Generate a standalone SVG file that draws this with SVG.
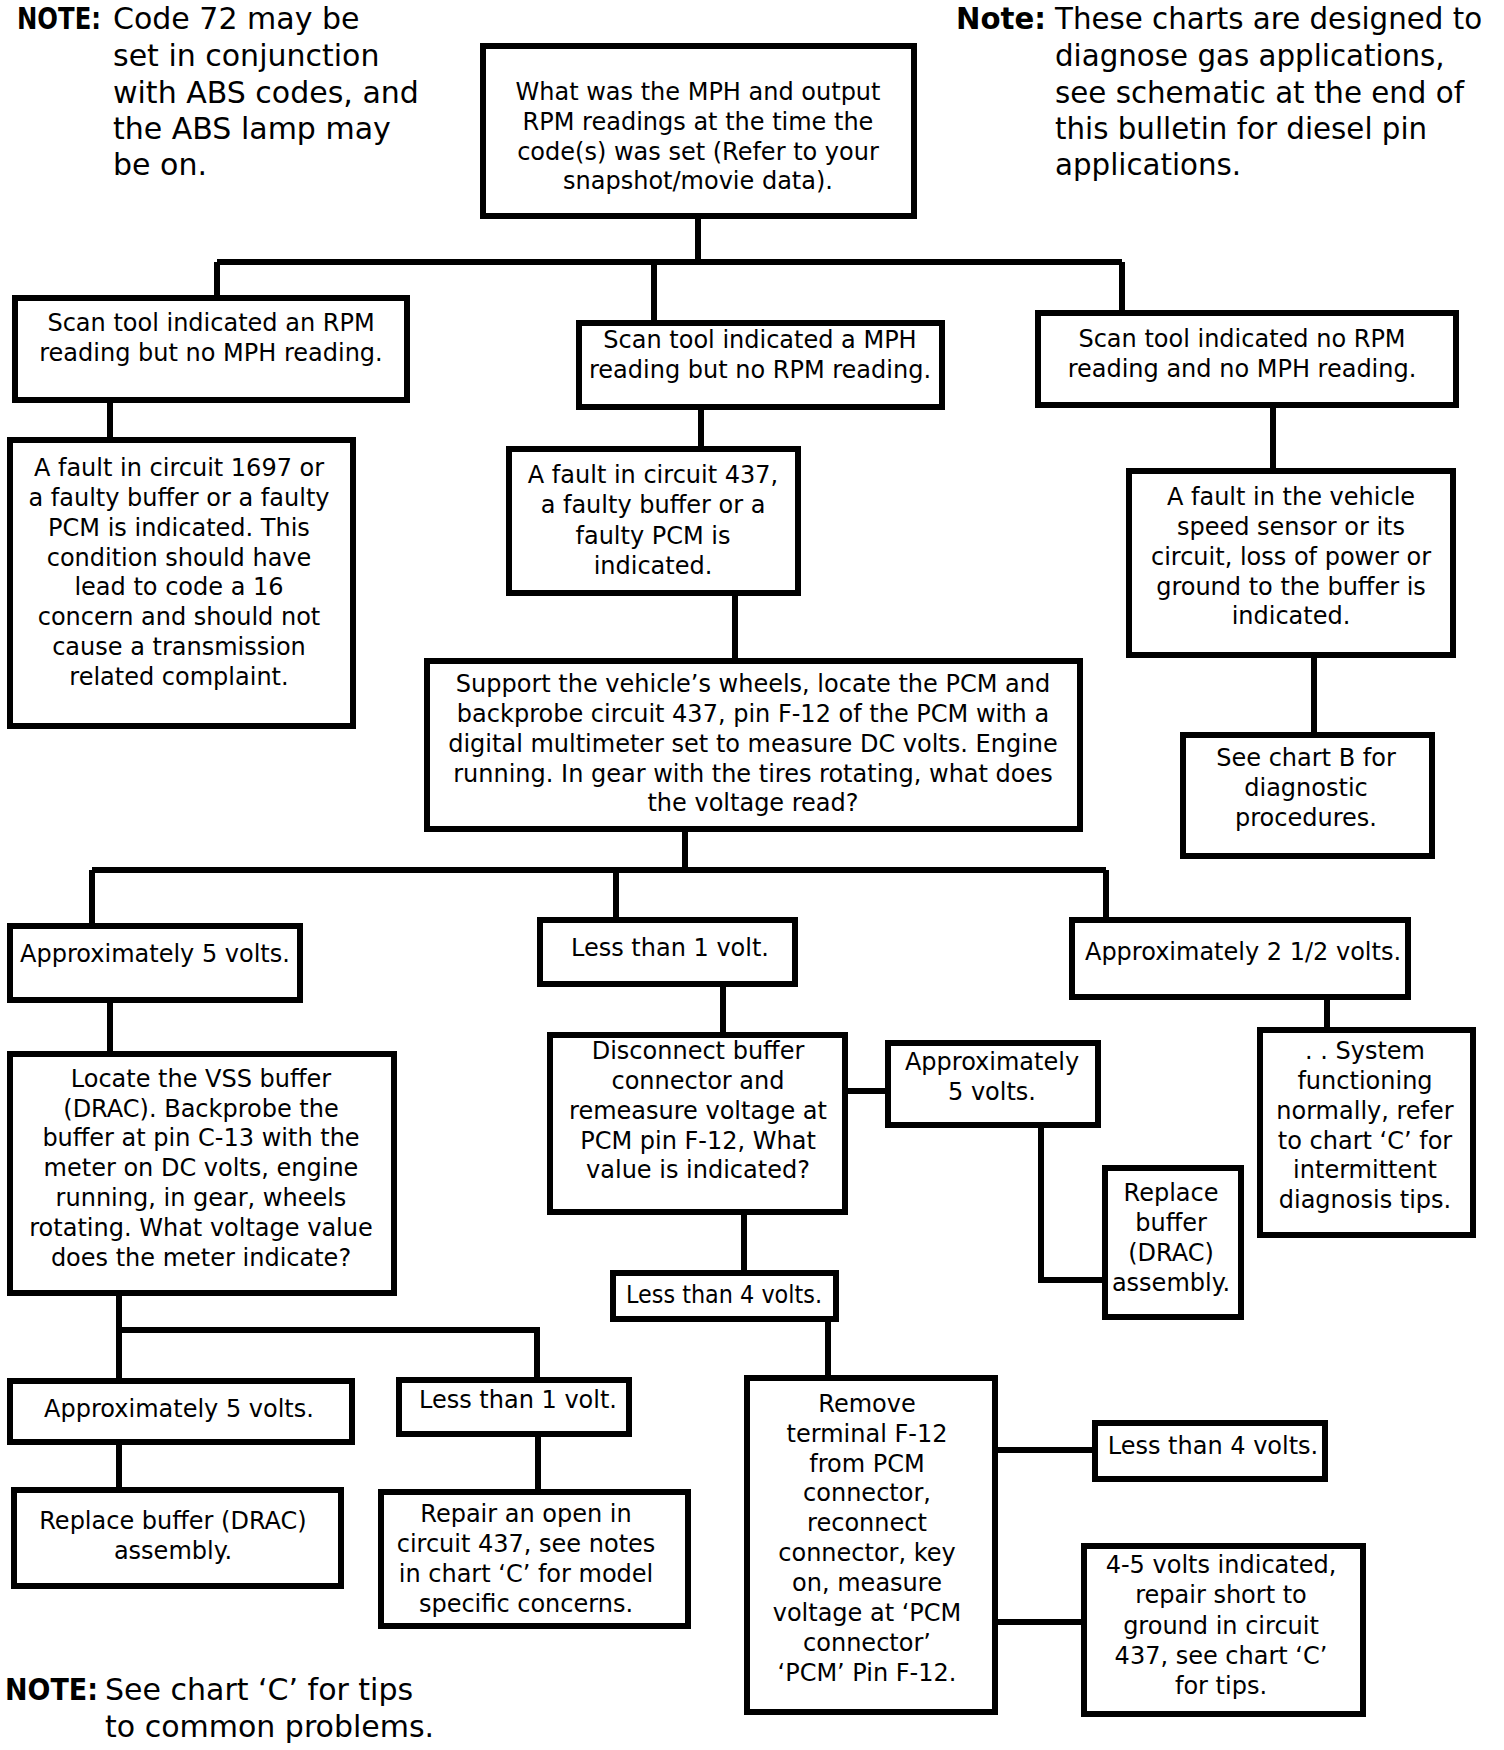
<svg xmlns="http://www.w3.org/2000/svg" width="1504" height="1750" viewBox="0 0 1504 1750">
<style>
.bg{fill:#fff}
.box{fill:#fff;stroke:#000;stroke-width:6}
.ln{fill:none;stroke:#000;stroke-width:6}
text{font-family:"DejaVu Sans","Liberation Sans",sans-serif;fill:#000}
.t{font-size:24px;text-anchor:middle}
.n{font-size:30px}
.nr{font-size:29.3px}
.nb{font-size:30px}
.b{font-weight:bold}
</style>
<rect class="bg" x="0" y="0" width="1504" height="1750"/>
<g id="connectors">
<path class="ln" d="M698,219 V262 M217,262 H1122 M217,262 V295 M654,262 V320 M1122,262 V310"/>
<path class="ln" d="M110,403 V437 M701,410 V446 M1273,408 V468 M1314,658 V732 M735,596 V658"/>
<path class="ln" d="M685,832 V870 M92,870 H1106 M92,870 V923 M616,870 V917 M1106,870 V917"/>
<path class="ln" d="M110,1003 V1051 M723,987 V1032 M1327,1000 V1028"/>
<path class="ln" d="M848,1091 H885 M1041,1128 V1280 H1102"/>
<path class="ln" d="M744,1215 V1270 M828,1322 V1375 M998,1450 H1092 M998,1622 H1081"/>
<path class="ln" d="M119,1296 V1378 M119,1330 H537 V1377 M119,1445 V1487 M538,1437 V1489"/>
</g>
<g id="note-left">
<text class="n b" x="17" y="29" textLength="84" lengthAdjust="spacingAndGlyphs">NOTE:</text>
<text class="n" x="113" y="29">Code 72 may be</text>
<text class="n" x="113" y="66">set in conjunction</text>
<text class="n" x="113" y="103">with ABS codes, and</text>
<text class="n" x="113" y="139">the ABS lamp may</text>
<text class="n" x="113" y="175">be on.</text>
</g>
<g id="note-right">
<text class="nr b" x="956" y="29" textLength="90" lengthAdjust="spacingAndGlyphs">Note:</text>
<text class="nr" x="1055" y="29">These charts are designed to</text>
<text class="nr" x="1055" y="66">diagnose gas applications,</text>
<text class="nr" x="1055" y="103">see schematic at the end of</text>
<text class="nr" x="1055" y="139">this bulletin for diesel pin</text>
<text class="nr" x="1055" y="175">applications.</text>
</g>
<g id="note-bottom">
<text class="nb b" x="5" y="1700" textLength="93" lengthAdjust="spacingAndGlyphs">NOTE:</text>
<text class="nb" x="105" y="1700">See chart ‘C’ for tips</text>
<text class="nb" x="105" y="1737">to common problems.</text>
</g>
<g id="n-top">
<rect class="box" x="483" y="46" width="431" height="170"/>
<text class="t" x="698" y="100">What was the MPH and output</text>
<text class="t" x="698" y="130">RPM readings at the time the</text>
<text class="t" x="698" y="160">code(s) was set (Refer to your</text>
<text class="t" x="698" y="189">snapshot/movie data).</text>
</g>
<g id="n-scan-rpm">
<rect class="box" x="15" y="298" width="392" height="102"/>
<text class="t" x="211" y="331">Scan tool indicated an RPM</text>
<text class="t" x="211" y="361">reading but no MPH reading.</text>
</g>
<g id="n-scan-mph">
<rect class="box" x="579" y="323" width="363" height="84"/>
<text class="t" x="760" y="348">Scan tool indicated a MPH</text>
<text class="t" x="760" y="378">reading but no RPM reading.</text>
</g>
<g id="n-scan-none">
<rect class="box" x="1038" y="313" width="418" height="92"/>
<text class="t" x="1242" y="347">Scan tool indicated no RPM</text>
<text class="t" x="1242" y="377">reading and no MPH reading.</text>
</g>
<g id="n-fault-1697">
<rect class="box" x="10" y="440" width="343" height="286"/>
<text class="t" x="179" y="476">A fault in circuit 1697 or</text>
<text class="t" x="179" y="506">a faulty buffer or a faulty</text>
<text class="t" x="179" y="536">PCM is indicated. This</text>
<text class="t" x="179" y="566">condition should have</text>
<text class="t" x="179" y="595">lead to code a 16</text>
<text class="t" x="179" y="625">concern and should not</text>
<text class="t" x="179" y="655">cause a transmission</text>
<text class="t" x="179" y="685">related complaint.</text>
</g>
<g id="n-fault-437">
<rect class="box" x="509" y="449" width="289" height="144"/>
<text class="t" x="653" y="483">A fault in circuit 437,</text>
<text class="t" x="653" y="513">a faulty buffer or a</text>
<text class="t" x="653" y="544">faulty PCM is</text>
<text class="t" x="653" y="574">indicated.</text>
</g>
<g id="n-fault-vss">
<rect class="box" x="1129" y="471" width="324" height="184"/>
<text class="t" x="1291" y="505">A fault in the vehicle</text>
<text class="t" x="1291" y="535">speed sensor or its</text>
<text class="t" x="1291" y="565">circuit, loss of power or</text>
<text class="t" x="1291" y="595">ground to the buffer is</text>
<text class="t" x="1291" y="624">indicated.</text>
</g>
<g id="n-see-b">
<rect class="box" x="1183" y="735" width="249" height="121"/>
<text class="t" x="1306" y="766">See chart B for</text>
<text class="t" x="1306" y="796">diagnostic</text>
<text class="t" x="1306" y="826">procedures.</text>
</g>
<g id="n-support">
<rect class="box" x="427" y="661" width="653" height="168"/>
<text class="t" x="753" y="692">Support the vehicle’s wheels, locate the PCM and</text>
<text class="t" x="753" y="722">backprobe circuit 437, pin F-12 of the PCM with a</text>
<text class="t" x="753" y="752">digital multimeter set to measure DC volts. Engine</text>
<text class="t" x="753" y="782">running. In gear with the tires rotating, what does</text>
<text class="t" x="753" y="811">the voltage read?</text>
</g>
<g id="n-approx5-left">
<rect class="box" x="10" y="926" width="290" height="74"/>
<text class="t" x="155" y="962">Approximately 5 volts.</text>
</g>
<g id="n-less1">
<rect class="box" x="540" y="920" width="255" height="64"/>
<text class="t" x="670" y="956">Less than 1 volt.</text>
</g>
<g id="n-approx25">
<rect class="box" x="1072" y="920" width="336" height="77"/>
<text class="t" x="1243" y="960">Approximately 2 1/2 volts.</text>
</g>
<g id="n-locate">
<rect class="box" x="10" y="1054" width="384" height="239"/>
<text class="t" x="201" y="1087">Locate the VSS buffer</text>
<text class="t" x="201" y="1117">(DRAC). Backprobe the</text>
<text class="t" x="201" y="1146">buffer at pin C-13 with the</text>
<text class="t" x="201" y="1176">meter on DC volts, engine</text>
<text class="t" x="201" y="1206">running, in gear, wheels</text>
<text class="t" x="201" y="1236">rotating. What voltage value</text>
<text class="t" x="201" y="1266">does the meter indicate?</text>
</g>
<g id="n-disconnect">
<rect class="box" x="550" y="1035" width="295" height="177"/>
<text class="t" x="698" y="1059">Disconnect buffer</text>
<text class="t" x="698" y="1089">connector and</text>
<text class="t" x="698" y="1119">remeasure voltage at</text>
<text class="t" x="698" y="1149">PCM pin F-12, What</text>
<text class="t" x="698" y="1178">value is indicated?</text>
</g>
<g id="n-approx5-mid">
<rect class="box" x="888" y="1043" width="210" height="82"/>
<text class="t" x="992" y="1070">Approximately</text>
<text class="t" x="992" y="1100">5 volts.</text>
</g>
<g id="n-replace-right">
<rect class="box" x="1105" y="1168" width="136" height="149"/>
<text class="t" x="1171" y="1201">Replace</text>
<text class="t" x="1171" y="1231">buffer</text>
<text class="t" x="1171" y="1261">(DRAC)</text>
<text class="t" x="1171" y="1291">assembly.</text>
</g>
<g id="n-system">
<rect class="box" x="1260" y="1030" width="213" height="205"/>
<text class="t" x="1365" y="1059">. . System</text>
<text class="t" x="1365" y="1089">functioning</text>
<text class="t" x="1365" y="1119">normally, refer</text>
<text class="t" x="1365" y="1149">to chart ‘C’ for</text>
<text class="t" x="1365" y="1178">intermittent</text>
<text class="t" x="1365" y="1208">diagnosis tips.</text>
</g>
<g id="n-less4-mid">
<rect class="box" x="613" y="1273" width="223" height="46"/>
<text class="t" x="724" y="1303" textLength="196" lengthAdjust="spacingAndGlyphs">Less than 4 volts.</text>
</g>
<g id="n-remove">
<rect class="box" x="747" y="1378" width="248" height="334"/>
<text class="t" x="867" y="1412">Remove</text>
<text class="t" x="867" y="1442">terminal F-12</text>
<text class="t" x="867" y="1472">from PCM</text>
<text class="t" x="867" y="1501">connector,</text>
<text class="t" x="867" y="1531">reconnect</text>
<text class="t" x="867" y="1561">connector, key</text>
<text class="t" x="867" y="1591">on, measure</text>
<text class="t" x="867" y="1621">voltage at ‘PCM</text>
<text class="t" x="867" y="1651">connector’</text>
<text class="t" x="867" y="1681">‘PCM’ Pin F-12.</text>
</g>
<g id="n-less4-right">
<rect class="box" x="1095" y="1423" width="230" height="56"/>
<text class="t" x="1213" y="1454">Less than 4 volts.</text>
</g>
<g id="n-45volts">
<rect class="box" x="1084" y="1546" width="279" height="168"/>
<text class="t" x="1221" y="1573">4-5 volts indicated,</text>
<text class="t" x="1221" y="1603">repair short to</text>
<text class="t" x="1221" y="1634">ground in circuit</text>
<text class="t" x="1221" y="1664">437, see chart ‘C’</text>
<text class="t" x="1221" y="1694">for tips.</text>
</g>
<g id="n-approx5-bottom">
<rect class="box" x="10" y="1381" width="342" height="61"/>
<text class="t" x="179" y="1417">Approximately 5 volts.</text>
</g>
<g id="n-less1-bottom">
<rect class="box" x="399" y="1380" width="230" height="54"/>
<text class="t" x="518" y="1408">Less than 1 volt.</text>
</g>
<g id="n-replace-bottom">
<rect class="box" x="14" y="1490" width="327" height="96"/>
<text class="t" x="173" y="1529">Replace buffer (DRAC)</text>
<text class="t" x="173" y="1559">assembly.</text>
</g>
<g id="n-repair">
<rect class="box" x="381" y="1492" width="307" height="134"/>
<text class="t" x="526" y="1522">Repair an open in</text>
<text class="t" x="526" y="1552">circuit 437, see notes</text>
<text class="t" x="526" y="1582">in chart ‘C’ for model</text>
<text class="t" x="526" y="1612">specific concerns.</text>
</g>
</svg>
